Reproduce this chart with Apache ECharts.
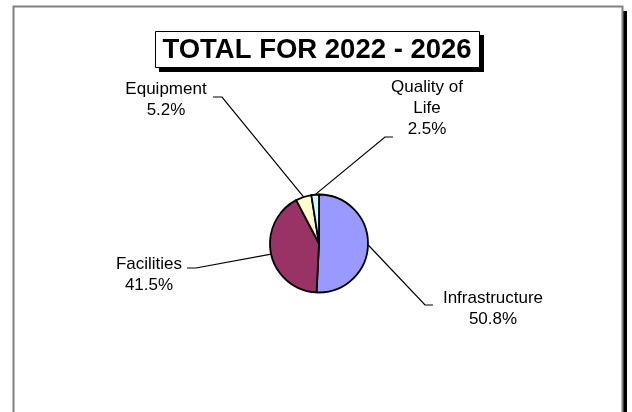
<!DOCTYPE html>
<html>
<head>
<meta charset="utf-8">
<script src="https://cdn.jsdelivr.net/npm/echarts@6/dist/echarts.min.js"></script>
<style>
  html, body { margin: 0; padding: 0; background: #ffffff; }
  #chart { width: 632px; height: 412px; }
</style>
</head>
<body>
<div id="chart"></div>
<script>
// Capital spending split, 2022 - 2026 (percent of total)
const categories = ['Infrastructure', 'Facilities', 'Equipment', 'Quality of Life'];
const shares = [50.8, 41.5, 5.2, 2.5];
const sliceColors = ['#9999FF', '#993366', '#FFFFCC', '#CCFFFF'];
const titleText = 'TOTAL FOR 2022 - 2026';

// Where each callout sits: label centre, elbow of the leader, end of the leader
const callouts = [
  { x: 493, y: 309, elbow: [425, 305], end: [433, 305] },
  { x: 149, y: 275, elbow: [196, 268], end: [187, 268] },
  { x: 166, y: 100, elbow: [222, 97], end: [213, 97] },
  { x: 427, y: 108, elbow: [385, 137], end: [393, 137] }
];

const chart = echarts.init(document.getElementById('chart'), null, { renderer: 'canvas' });

const option = {
  backgroundColor: '#ffffff',
  animation: false,
  graphic: [
    // page frame with drop shadow on the right
    { type: 'rect', z: 0, shape: { x: 623, y: 11, width: 4, height: 420 }, style: { fill: '#000' } },
    { type: 'rect', z: 1, shape: { x: 13.5, y: 6.5, width: 609, height: 420 },
      style: { fill: '#fff', stroke: '#808080', lineWidth: 2 } },
    // title box with shadow
    { type: 'rect', z: 2, shape: { x: 159, y: 35, width: 325, height: 37 }, style: { fill: '#000' } },
    { type: 'rect', z: 3, shape: { x: 155.5, y: 31.5, width: 324, height: 36 },
      style: { fill: '#fff', stroke: '#000', lineWidth: 1 } },
    { type: 'text', z: 4, x: 317, y: 50,
      style: { text: titleText, fill: '#000', font: 'bold 27.5px "Liberation Sans", Arial, sans-serif',
               align: 'center', verticalAlign: 'middle' } }
  ],
  series: [{
    type: 'pie',
    z: 5,
    center: [319, 243.5],
    radius: 49,
    startAngle: 90,
    clockwise: true,
    percentPrecision: 1,
    avoidLabelOverlap: false,
    itemStyle: { borderColor: '#000', borderWidth: 1.8 },
    label: {
      show: true,
      position: 'outside',
      color: '#000',
      fontFamily: '"Liberation Sans", Arial, sans-serif',
      fontSize: 17,
      lineHeight: 21,
      align: 'center',
      formatter: p => p.name.replace('Quality of ', 'Quality of\n') + '\n' + p.percent.toFixed(1) + '%'
    },
    labelLine: { show: true, lineStyle: { color: '#000', width: 1.2 } },
    labelLayout: params => {
      const c = callouts[params.dataIndex];
      const start = params.labelLinePoints ? params.labelLinePoints[0] : c.elbow;
      return {
        x: c.x,
        y: c.y,
        align: 'center',
        verticalAlign: 'middle',
        labelLinePoints: [start, c.elbow, c.end]
      };
    },
    data: categories.map((name, i) => ({
      name,
      value: shares[i],
      itemStyle: { color: sliceColors[i] }
    }))
  }]
};

chart.setOption(option);
</script>
</body>
</html>
